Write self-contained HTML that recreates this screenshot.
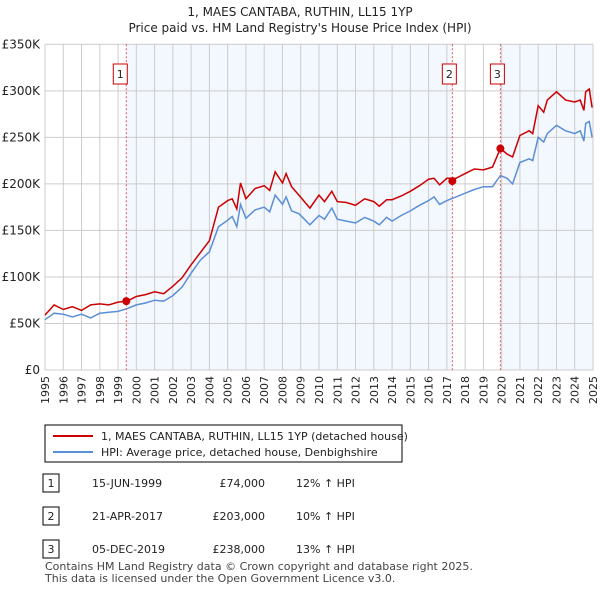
<!DOCTYPE html>
<html><head><meta charset="utf-8"><style>
body{margin:0;background:#fff;font-family:"Liberation Sans","DejaVu Sans",sans-serif;}
svg text{font-family:"DejaVu Sans","Liberation Sans",sans-serif;}
</style></head><body>
<svg id="c" width="600" height="590" viewBox="0 0 600 590" xmlns="http://www.w3.org/2000/svg">
<text x="300" y="16" text-anchor="middle" font-size="12" fill="#222">1, MAES CANTABA, RUTHIN, LL15 1YP</text>
<text x="300" y="32" text-anchor="middle" font-size="12" fill="#222">Price paid vs. HM Land Registry's House Price Index (HPI)</text>
<g id="bg"></g><g id="grid"></g><g id="axes"></g><g id="lines"></g><g id="marks"></g>
<rect x="45" y="425" width="357" height="37" fill="#fff" stroke="#000" stroke-width="1"/>
<line x1="53" y1="436" x2="93" y2="436" stroke="#cc0000" stroke-width="2"/>
<text x="101" y="440" font-size="11" fill="#222">1, MAES CANTABA, RUTHIN, LL15 1YP (detached house)</text>
<line x1="53" y1="452" x2="93" y2="452" stroke="#5b8fd6" stroke-width="2"/>
<text x="101" y="456" font-size="11" fill="#222">HPI: Average price, detached house, Denbighshire</text>
<g id="table" font-size="11" fill="#222"></g>
<text x="45" y="570" font-size="11" fill="#444">Contains HM Land Registry data © Crown copyright and database right 2025.</text>
<text x="45" y="582" font-size="11" fill="#444">This data is licensed under the Open Government Licence v3.0.</text>
</svg>
<script>
const hpiYears=[1995,1995.5,1996,1996.5,1997,1997.5,1998,1998.5,1999,1999.5,2000,2000.5,2001,2001.5,2002,2002.5,2003,2003.5,2004,2004.5,2005,2005.25,2005.5,2005.7,2006,2006.5,2007,2007.3,2007.6,2008,2008.2,2008.5,2008.9,2009.5,2010,2010.3,2010.7,2011,2011.5,2012,2012.5,2013,2013.3,2013.7,2014,2014.5,2015,2015.5,2016,2016.3,2016.6,2017,2017.5,2018,2018.5,2019,2019.5,2019.93,2020.3,2020.6,2021,2021.5,2021.7,2022,2022.3,2022.5,2023,2023.5,2024,2024.3,2024.5,2024.6,2024.8,2024.95];
const hpiValues=[54,61,60,57,60,56,61,62,63,66,70,72,75,74,80,89,104,118,127,154,161,165,154,178,163,172,175,170,188,178,186,171,168,156,166,162,174,162,160,158,164,160,156,164,160,166,171,177,182,186,178,182,186,190,194,197,197,209,206,200,223,227,225,250,245,254,263,257,254,257,246,265,267,250];
const priceValues=[59,70,65,68,64,70,71,70,73,74,79,81,84,82,90,99,113,126,139,175,182,184,173,201,184,195,198,193,213,201,211,197,188,174,188,181,192,181,180,177,184,181,176,183,183,187,192,198,205,206,199,206,206,211,216,215,218,238,232,229,252,257,254,284,277,290,299,290,288,290,279,299,302,282];
const saleLabels=["1","2","3"];
const saleYears=[1999.45,2017.3,2019.93];
const salePrices=[74,203,238];
const saleDates=["15-JUN-1999","21-APR-2017","05-DEC-2019"];
const salePriceText=["£74,000","£203,000","£238,000"];
const saleHpiText=["12% ↑ HPI","10% ↑ HPI","13% ↑ HPI"];
const yTicks=[0,50,100,150,200,250,300,350];
const yTickLabels=["£0","£50K","£100K","£150K","£200K","£250K","£300K","£350K"];

const X0=45,X1=593,Y0=370,Y1=44.3;
const x=y=>X0+(y-1995)/30*(X1-X0);
const yv=v=>Y0-v/350*(Y0-Y1);
const NS="http://www.w3.org/2000/svg";
function mk(p,t,a){const e=document.createElementNS(NS,t);for(const k in a)e.setAttribute(k,a[k]);document.getElementById(p).appendChild(e);return e;}
// shading
let r=mk('bg','rect',{x:x(saleYears[0]),y:Y1,width:x(saleYears[1])-x(saleYears[0]),height:Y0-Y1,fill:'#eef3fd',opacity:0.7});


r=mk('bg','rect',{x:x(saleYears[2]),y:Y1,width:X1-x(saleYears[2]),height:Y0-Y1,fill:'#eef3fd',opacity:0.7});


for(let yr=1995;yr<=2025;yr++){
 const l=mk('grid','line',{x1:x(yr),x2:x(yr),y1:Y1,y2:Y0,stroke:'#ccc','stroke-width':1});
 
 
 const t=mk('axes','text',{x:0,y:0,transform:`translate(${x(yr)+4},${Y0+6}) rotate(-90)`,'text-anchor':'end','font-size':11,fill:'#222'});
 t.textContent=yr;
 
 
}
yTicks.forEach((v,i)=>{
 const l=mk('grid','line',{x1:X0,x2:X1,y1:yv(v),y2:yv(v),stroke:'#ccc','stroke-width':1});
 
 
 const t=mk('axes','text',{x:X0-5,y:yv(v)+4,'text-anchor':'end','font-size':12,fill:'#222'});
 t.textContent=yTickLabels[i];
 
 
});
const pl=(vals)=>hpiYears.map((yr,i)=>x(yr).toFixed(1)+','+yv(vals[i]).toFixed(1)).join(' ');
let h=mk('lines','polyline',{points:pl(hpiValues),fill:'none',stroke:'#5b8fd6','stroke-width':1.5});


let p=mk('lines','polyline',{points:pl(priceValues),fill:'none',stroke:'#cc0000','stroke-width':1.5});


saleYears.forEach((yr,i)=>{
 const l=mk('marks','line',{x1:x(yr),x2:x(yr),y1:Y1,y2:Y0,stroke:'#e05555','stroke-width':1,'stroke-dasharray':'2,2'});
 
 
 const c=mk('marks','circle',{cx:x(yr),cy:yv(salePrices[i]),r:4,fill:'#cc0000'});
 
 
 const b=mk('marks','rect',{x:x(yr)-10-(i==0?3:0),y:64,width:14,height:20,fill:'#fff',stroke:'#cc0000'});
 
 
 const t=mk('marks','text',{x:x(yr)-3-(i==0?3:0),y:78,'text-anchor':'middle','font-size':11,fill:'#222'});
 t.textContent=saleLabels[i];
 
 
 const ry=483+i*33;
 const tb=mk('table','rect',{x:43,y:ry-9,width:16,height:18,fill:'#fff',stroke:'#000'});
 
 
 const cells=[[51,saleLabels[i],'middle'],[92,saleDates[i],'start'],[265,salePriceText[i],'end'],[296,saleHpiText[i],'start']];
 cells.forEach(([cx,txt,an],j)=>{
  const e=mk('table','text',{x:cx,y:ry+4,'text-anchor':an,'font-size':11,fill:'#222'});
  e.textContent=txt;
  
  
 });
});
</script>
</body></html>
